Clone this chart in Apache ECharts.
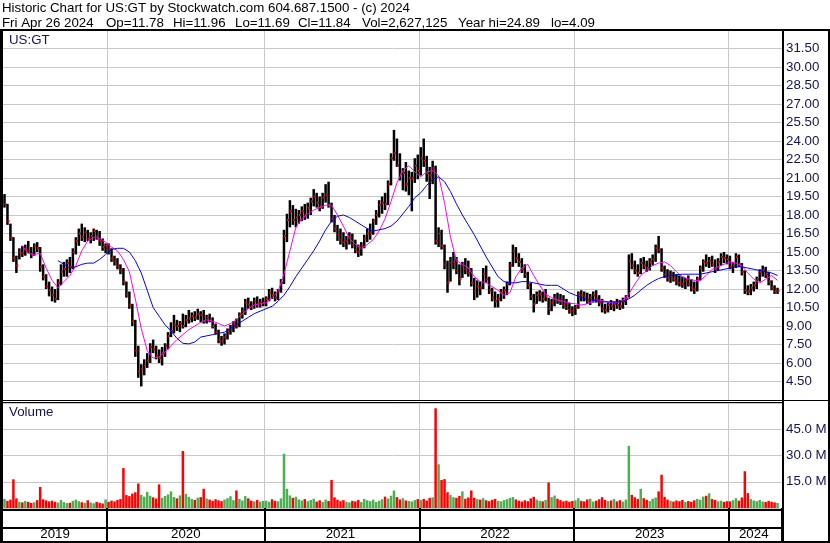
<!DOCTYPE html>
<html><head><meta charset="utf-8">
<script src="https://cdn.jsdelivr.net/npm/echarts/dist/echarts.min.js"></script>
<style>html,body{margin:0;padding:0;background:#fff;}#c{width:830px;height:543px;}</style>
</head><body><div id="c"></div>
<script>
// ---------- data (weekly) ----------
const years = ['2019','2020','2021','2022','2023','2024'];
const weeksPerYear = [35,53,52,52,52,17];

const highs = [
19.7,18.9,17.3,16.2,14.7,15.3,15.5,15.6,15.9,15.4,15.7,15.8,15.4,14.0,13.2,12.6,12.2,12.0,12.8,14.0,14.2,14.4,14.6,15.3,16.2,16.9,17.3,17.0,16.8,16.6,16.9,16.8,16.7,16.1,15.7,
15.7,15.3,14.7,14.5,14.0,13.7,12.6,11.8,10.8,9.5,7.4,5.9,6.3,6.8,7.6,7.9,7.4,7.1,7.3,7.6,8.5,9.3,9.9,9.5,9.4,10.0,9.9,10.3,10.1,10.2,10.4,10.2,10.3,9.9,10.0,9.7,9.2,8.7,8.2,8.4,8.8,9.1,9.4,9.6,10.1,10.5,11.2,11.3,11.0,11.3,11.4,11.2,11.3,
11.4,12.0,12.1,11.8,12.0,12.8,16.8,18.1,19.2,18.8,18.5,18.4,18.7,18.9,19.0,19.4,20.1,19.8,19.5,19.8,20.5,20.7,19.0,18.0,17.2,16.9,16.6,16.3,16.6,16.5,16.0,15.6,15.8,16.4,16.9,17.3,17.7,18.4,19.2,19.5,19.8,20.8,23.0,24.9,24.2,23.0,21.8,22.3,21.6,21.5,22.6,22.9,
23.5,24.2,22.8,21.9,22.4,22.0,17.0,16.8,15.6,14.3,14.6,15.0,14.6,14.0,14.2,14.5,14.3,13.7,12.9,12.7,12.6,13.7,13.9,13.0,12.1,11.8,11.6,12.0,12.2,12.6,14.2,15.6,15.4,14.9,14.5,14.0,13.4,12.5,11.6,11.8,11.9,11.8,12.0,11.3,11.2,11.6,11.7,11.6,11.5,11.2,10.9,10.6,
10.7,11.8,11.9,11.8,11.7,11.6,11.8,11.9,11.5,11.2,10.8,10.9,11.1,11.0,11.2,11.1,11.3,11.5,14.8,14.9,14.3,14.0,14.5,14.6,14.3,14.5,14.8,15.6,16.3,15.3,13.9,13.6,13.5,13.4,13.2,13.1,13.0,12.9,13.1,12.8,12.6,13.0,13.9,14.4,14.8,14.6,14.7,14.4,14.5,14.9,15.0,14.8,
14.7,14.2,14.9,14.8,14.1,13.5,12.3,12.4,12.6,13.0,13.6,13.9,13.8,13.4,12.7,12.3,12.1
];
const lows = [
18.6,17.2,15.9,14.2,13.3,14.4,14.6,14.7,14.9,14.5,14.7,15.0,13.4,12.7,12.0,11.4,11.0,10.9,11.1,12.3,13.0,13.0,13.3,13.6,14.8,15.5,15.9,15.8,15.9,15.7,15.9,16.0,15.5,15.1,14.9,
14.8,14.2,13.9,13.6,13.2,12.3,11.3,10.4,9.0,6.5,4.8,4.1,5.0,5.6,6.0,6.8,6.3,6.0,5.8,6.5,7.1,8.1,8.4,8.6,8.5,8.8,8.9,9.2,9.3,9.4,9.5,9.3,9.2,9.2,9.3,8.8,8.3,7.6,7.4,7.5,7.9,8.3,8.5,8.8,8.9,9.6,9.9,10.4,10.3,10.4,10.5,10.5,10.6,
10.6,11.0,11.2,11.0,11.1,11.7,12.4,15.8,17.0,17.2,17.0,17.3,17.5,17.6,17.7,18.0,18.7,18.6,18.3,18.5,19.0,18.6,17.4,16.6,15.9,15.6,15.4,15.2,15.6,15.3,14.9,14.6,14.7,15.3,15.8,16.0,16.4,17.2,17.8,18.1,18.4,18.8,20.4,22.4,21.9,20.8,20.0,19.9,19.6,18.3,20.6,20.9,
21.2,21.9,20.7,19.3,20.5,15.6,15.4,15.2,13.6,11.7,12.6,13.6,13.2,12.3,12.9,13.2,13.0,12.2,11.1,11.3,11.5,12.0,12.5,11.6,11.0,10.5,10.5,11.0,11.2,11.5,12.3,13.8,14.1,13.8,13.3,12.9,12.0,11.1,10.1,10.8,11.0,10.9,11.0,9.9,10.2,10.6,10.8,10.7,10.4,10.3,10.0,9.8,
9.9,10.4,11.0,11.0,10.8,10.7,10.9,10.9,10.6,10.1,10.0,10.1,10.3,10.2,10.4,10.3,10.4,10.7,11.3,13.6,13.2,13.0,13.2,13.6,13.4,13.5,13.9,14.2,14.9,13.4,12.9,12.6,12.5,12.6,12.3,12.2,12.1,12.0,12.2,11.8,11.6,11.8,12.7,13.4,13.8,13.7,13.8,13.3,13.5,13.9,14.1,14.0,
13.6,13.3,13.7,13.8,13.1,11.6,11.5,11.5,11.8,12.0,12.6,13.0,12.9,12.3,11.9,11.6,11.6
];
const closes = [
18.9,17.5,16.2,14.5,13.9,15.0,14.9,15.2,15.1,14.8,15.5,15.3,13.8,13.0,12.2,11.9,11.5,11.2,12.5,13.4,13.6,14.1,13.8,15.0,15.9,16.5,16.2,16.6,16.1,16.3,16.7,16.3,15.9,15.4,15.5,
15.2,14.5,14.2,13.9,13.5,12.6,11.6,10.7,9.4,7.0,5.3,5.5,5.8,6.2,7.3,7.1,6.6,6.4,6.8,7.4,8.2,8.6,9.1,9.0,9.2,9.0,9.5,9.6,9.8,9.7,10.0,9.9,9.4,9.7,9.5,9.0,8.5,7.9,7.8,8.1,8.6,8.8,9.2,9.0,9.9,10.2,10.9,10.7,10.6,11.0,10.8,10.9,10.9,
11.2,11.7,11.5,11.3,11.9,12.5,16.3,17.6,18.3,17.6,17.8,18.0,18.3,18.0,18.6,19.1,19.5,19.0,18.7,19.4,19.6,18.8,17.7,16.9,16.4,16.0,15.8,15.9,16.2,15.6,15.2,15.0,15.5,16.1,16.5,16.6,17.5,18.0,18.8,19.0,18.9,20.5,22.6,23.0,22.0,21.3,21.4,20.5,21.0,21.0,22.0,21.6,
22.6,22.4,21.4,21.2,21.8,15.9,16.5,15.5,14.0,12.5,14.1,14.2,13.5,12.8,13.9,13.6,13.3,12.5,11.8,12.2,12.1,13.2,12.8,11.9,11.3,11.0,11.2,11.7,11.9,12.4,13.9,15.1,14.5,14.2,13.6,13.2,12.3,11.4,10.8,11.5,11.6,11.2,11.4,10.4,10.9,11.3,11.1,11.0,10.7,10.5,10.3,10.2,
10.5,11.6,11.5,11.4,11.0,11.3,11.5,11.2,10.9,10.4,10.3,10.7,10.6,10.8,10.7,10.6,11.0,11.2,14.3,13.9,13.5,13.3,14.1,13.9,13.7,14.2,14.4,15.3,15.2,13.7,13.2,12.9,13.1,12.8,12.6,12.5,12.4,12.7,12.4,12.1,12.0,12.8,13.7,14.2,14.1,14.3,14.0,13.6,14.2,14.6,14.5,14.4,
13.8,13.9,14.6,14.0,13.4,11.9,11.8,12.1,12.3,12.8,13.4,13.5,13.2,12.6,12.1,11.8,11.84
];
// volume in millions (largest daily volume of each week)
const volumes = [
5.2,4.1,4.8,16.4,5.5,3.6,3.2,4.0,3.5,2.9,3.3,4.5,12.0,5.0,4.4,3.8,4.2,3.6,3.1,4.6,3.4,2.8,3.0,4.1,4.8,3.9,3.3,2.9,4.4,3.1,2.7,3.5,3.0,2.6,4.9,
3.5,4.2,3.8,4.6,5.1,22.8,7.4,6.8,8.2,9.0,14.0,7.6,6.5,9.2,7.0,6.1,5.4,13.5,5.8,6.9,7.8,9.5,6.3,5.5,7.2,32.6,8.1,6.4,5.2,4.6,5.9,6.2,11.0,5.4,4.8,4.1,5.0,4.4,3.9,4.8,5.6,6.7,4.5,10.0,5.2,4.3,6.8,5.5,4.2,3.8,4.6,3.7,4.0,
4.2,3.6,5.0,4.1,3.8,5.5,31.0,11.0,7.2,5.8,6.4,4.9,4.3,5.1,3.9,4.6,5.3,3.7,4.4,3.5,4.8,4.0,16.0,6.1,4.7,3.9,4.5,3.6,3.2,4.1,3.8,4.6,3.4,5.2,4.4,3.9,4.8,3.5,4.2,5.0,6.5,5.4,7.0,10.0,6.2,4.9,5.6,4.3,4.0,3.7,4.5,5.1,
4.6,5.2,4.3,5.8,6.1,57.0,25.0,16.0,16.5,9.0,7.4,6.2,5.8,6.9,9.5,5.3,6.0,10.0,5.9,5.1,4.8,5.6,4.4,3.9,4.7,5.2,4.1,3.8,4.5,5.0,5.7,6.3,4.9,4.2,3.7,4.4,3.9,5.5,6.4,4.8,4.1,3.8,4.6,14.6,6.2,7.1,5.3,4.5,3.8,4.2,3.6,4.0,
4.4,5.6,4.1,3.8,4.9,5.3,3.7,4.2,5.0,6.2,4.6,3.9,4.3,5.1,3.8,4.5,3.6,4.8,35.5,7.5,6.1,5.2,11.0,5.6,4.7,4.0,5.3,6.0,9.5,19.0,6.4,4.8,4.1,3.7,4.3,3.9,4.6,3.5,4.0,3.6,4.4,5.2,4.7,6.5,7.0,8.4,5.1,4.6,3.8,4.2,3.5,3.9,
3.8,4.5,5.6,4.2,6.0,21.0,8.5,5.1,4.3,3.9,4.6,3.7,3.4,4.1,3.6,3.2,2.9
];
// moving averages every second week
const maStep = 2;
const maFastStart = 6;
const maFast = [
15.5,14.9,14.8,14.9,13.7,12.7,12.1,12.6,13.1,13.9,15.1,15.9,16.2,16.1,15.8,
15.4,15.1,14.4,13.4,11.2,8.8,7.0,6.4,6.5,6.9,7.4,7.9,8.3,8.7,9.0,9.3,9.5,9.4,9.2,9.0,9.2,9.5,10.0,10.4,10.7,10.8,
10.9,11.3,11.8,13.2,15.1,17.0,17.7,18.1,18.4,18.6,18.8,18.8,18.0,17.1,16.1,15.6,15.3,15.6,16.0,16.7,17.7,19.1,20.6,21.6,22.0,21.5,
21.1,21.5,21.6,21.2,19.0,16.2,14.3,14.0,13.7,13.0,12.6,12.5,12.2,11.9,11.5,11.7,13.0,13.7,14.0,13.1,12.3,11.6,11.3,11.1,11.0,10.85,
10.8,10.7,10.8,11.0,11.1,11.0,10.9,10.9,11.1,11.6,12.4,13.1,13.5,13.9,14.1,14.2,13.9,13.4,13.0,12.8,12.7,12.7,13.1,13.6,13.8,14.0,
14.2,14.1,13.9,13.3,12.8,12.5,12.8,13.1,12.7
];
const maSlowStart = 18;
const maSlow = [
14.3,14.0,13.7,13.8,14.0,14.1,14.1,14.4,14.8,
15.2,15.3,15.3,15.0,14.3,13.3,11.9,10.5,9.8,9.1,8.6,8.0,7.6,7.55,7.7,8.1,8.2,8.3,8.4,8.5,8.8,9.1,9.4,9.7,10.0,10.2,
10.4,10.6,11.0,11.5,12.2,13.0,13.7,14.4,15.1,15.9,16.8,17.5,17.9,18.0,17.8,17.5,17.2,16.9,16.7,16.8,16.9,17.1,17.5,18.1,18.7,19.4,
19.8,20.4,20.9,21.1,20.7,19.9,18.9,18.0,17.2,16.4,15.5,14.6,13.8,13.0,12.6,12.5,12.5,12.6,12.6,12.5,12.4,12.3,12.3,12.3,12.0,11.7,
11.5,11.3,11.15,11.1,11.0,10.95,10.95,10.95,11.0,11.2,11.5,11.9,12.3,12.6,12.85,13.0,13.1,13.15,13.2,13.2,13.2,13.2,13.3,13.4,13.5,13.6,
13.7,13.8,13.8,13.7,13.6,13.5,13.4,13.3,13.1
];
// header texts
const titleText = 'Historic Chart for US:GT by Stockwatch.com 604.687.1500 - (c) 2024';
const quoteFields = ['Fri Apr 26 2024', 'Op=11.78', 'Hi=11.96', 'Lo=11.69', 'Cl=11.84', 'Vol=2,627,125', 'Year hi=24.89', 'lo=4.09'];
const quoteFieldX = [2, 106, 173, 235, 298, 362, 458, 551];

// ---------- build ----------
const FONT = '"Liberation Sans", Arial, sans-serif';
const cats = [];
const startSet = new Set();
const labelSet = new Set();
let s = 0;
years.forEach((y, k) => {
  const n = weeksPerYear[k];
  if (s > 0) startSet.add(s);
  labelSet.add(s + Math.floor(n / 2 - 0.5));
  for (let j = 0; j < n; j++) cats.push(y + '-' + (j + 1));
  s += n;
});
cats.push(''); // one empty week at the right edge

const ohlc = highs.map((h, i) => [i, h, lows[i], closes[i]]);
const volData = volumes.map((v, i) => ({
  value: v,
  itemStyle: { color: (i === 0 || closes[i] >= closes[i - 1]) ? '#4caf50' : '#ff0000' }
}));
const fastData = maFast.map((v, k) => [maFastStart + maStep * k, v]);
const slowData = maSlow.map((v, k) => [maSlowStart + maStep * k, v]);

const gridLine = { color: '#c8c8c8', width: 1 };
const axisTxt = { color: '#141450', fontSize: 13.3, fontFamily: FONT };

const chart = echarts.init(document.getElementById('c'), null, { renderer: 'canvas' });
const black = { fill: '#000' };
const graphics = [
  { type: 'text', x: 2, y: 2, z: 100, style: { text: titleText, fill: '#000', fontSize: 13.3, fontFamily: FONT } }
];
quoteFields.forEach((t, k) => graphics.push(
  { type: 'text', x: quoteFieldX[k], y: 17, z: 100, style: { text: t, fill: '#000', fontSize: 13.3, fontFamily: FONT } }
));
graphics.push(
  { type: 'text', x: 9, y: 34, z: 100, style: { text: 'US:GT', fill: '#141450', fontSize: 13.3, fontFamily: FONT } },
  { type: 'text', x: 9, y: 406, z: 100, style: { text: 'Volume', fill: '#141450', fontSize: 13.3, fontFamily: FONT } },
  { type: 'rect', z: 100, shape: { x: 0, y: 29, width: 830, height: 2 }, style: black },
  { type: 'rect', z: 100, shape: { x: 0, y: 29, width: 3, height: 514 }, style: black },
  { type: 'rect', z: 100, shape: { x: 782, y: 29, width: 2, height: 514 }, style: black },
  { type: 'rect', z: 100, shape: { x: 828, y: 29, width: 2, height: 514 }, style: black },
  { type: 'rect', z: 100, shape: { x: 0, y: 400, width: 830, height: 1 }, style: black },
  { type: 'rect', z: 100, shape: { x: 0, y: 402, width: 782, height: 1 }, style: black },
  { type: 'rect', z: 100, shape: { x: 0, y: 509, width: 782, height: 2 }, style: black },
  { type: 'rect', z: 100, shape: { x: 0, y: 527, width: 782, height: 2 }, style: black },
  { type: 'rect', z: 100, shape: { x: 0, y: 541, width: 830, height: 2 }, style: black }
);

chart.setOption({
  animation: false,
  backgroundColor: '#fff',
  grid: [
    { left: 3, right: 48, top: 30, height: 370, outerBoundsMode: 'none', containLabel: false },
    { left: 3, right: 48, top: 403, height: 105, outerBoundsMode: 'none', containLabel: false }
  ],
  xAxis: [
    { type: 'category', gridIndex: 0, data: cats, boundaryGap: true,
      axisLine: { show: false }, axisTick: { show: false }, axisLabel: { show: false },
      splitLine: { show: true, interval: (i) => startSet.has(i), lineStyle: gridLine } },
    { type: 'category', gridIndex: 1, data: cats, boundaryGap: true,
      axisLine: { show: false },
      axisTick: { show: true, interval: (i) => startSet.has(i), length: 34, lineStyle: { color: '#000', width: 2 } },
      axisLabel: { show: true, interval: (i) => labelSet.has(i), formatter: (v) => v.split('-')[0],
        margin: 20, color: '#000', fontSize: 13.3, fontFamily: FONT },
      splitLine: { show: true, interval: (i) => startSet.has(i), lineStyle: gridLine } }
  ],
  yAxis: [
    { type: 'value', gridIndex: 0, position: 'right', min: 3, max: 33, interval: 1.5,
      axisLine: { show: false }, axisTick: { show: false },
      axisLabel: Object.assign({ margin: 4, formatter: (v) => v.toFixed(2), showMinLabel: false, showMaxLabel: false }, axisTxt),
      splitLine: { show: true, lineStyle: gridLine } },
    { type: 'value', gridIndex: 1, position: 'right', min: 0, max: 60, interval: 15,
      axisLine: { show: false }, axisTick: { show: false },
      axisLabel: Object.assign({ margin: 4, formatter: (v) => v.toFixed(1) + ' M', showMinLabel: false, showMaxLabel: false }, axisTxt),
      splitLine: { show: true, lineStyle: gridLine } }
  ],
  series: [
    { type: 'custom', name: 'price', xAxisIndex: 0, yAxisIndex: 0, data: ohlc, silent: true, clip: true,
      encode: { x: 0, y: [1, 2, 3] },
      renderItem: (params, api) => {
        const i = api.value(0);
        const pH = api.coord([i, api.value(1)]);
        const pL = api.coord([i, api.value(2)]);
        const pC = api.coord([i, api.value(3)]);
        return { type: 'group', children: [
          { type: 'rect', shape: { x: pH[0] - 1.25, y: pH[1], width: 2.5, height: Math.max(1, pL[1] - pH[1]) }, style: { fill: '#000' } },
          { type: 'rect', shape: { x: pC[0], y: pC[1] - 1, width: 2, height: 2 }, style: { fill: '#ff0000' } }
        ] };
      } },
    { type: 'line', name: 'ma fast', xAxisIndex: 0, yAxisIndex: 0, data: fastData, symbol: 'none', silent: true,
      lineStyle: { color: '#ff00ff', width: 1 }, z: 3 },
    { type: 'line', name: 'ma slow', xAxisIndex: 0, yAxisIndex: 0, data: slowData, symbol: 'none', silent: true,
      lineStyle: { color: '#0000ff', width: 1 }, z: 3 },
    { type: 'bar', name: 'volume', xAxisIndex: 1, yAxisIndex: 1, data: volData, barWidth: 2.5, silent: true }
  ],
  graphic: graphics
});
</script>
</body></html>
